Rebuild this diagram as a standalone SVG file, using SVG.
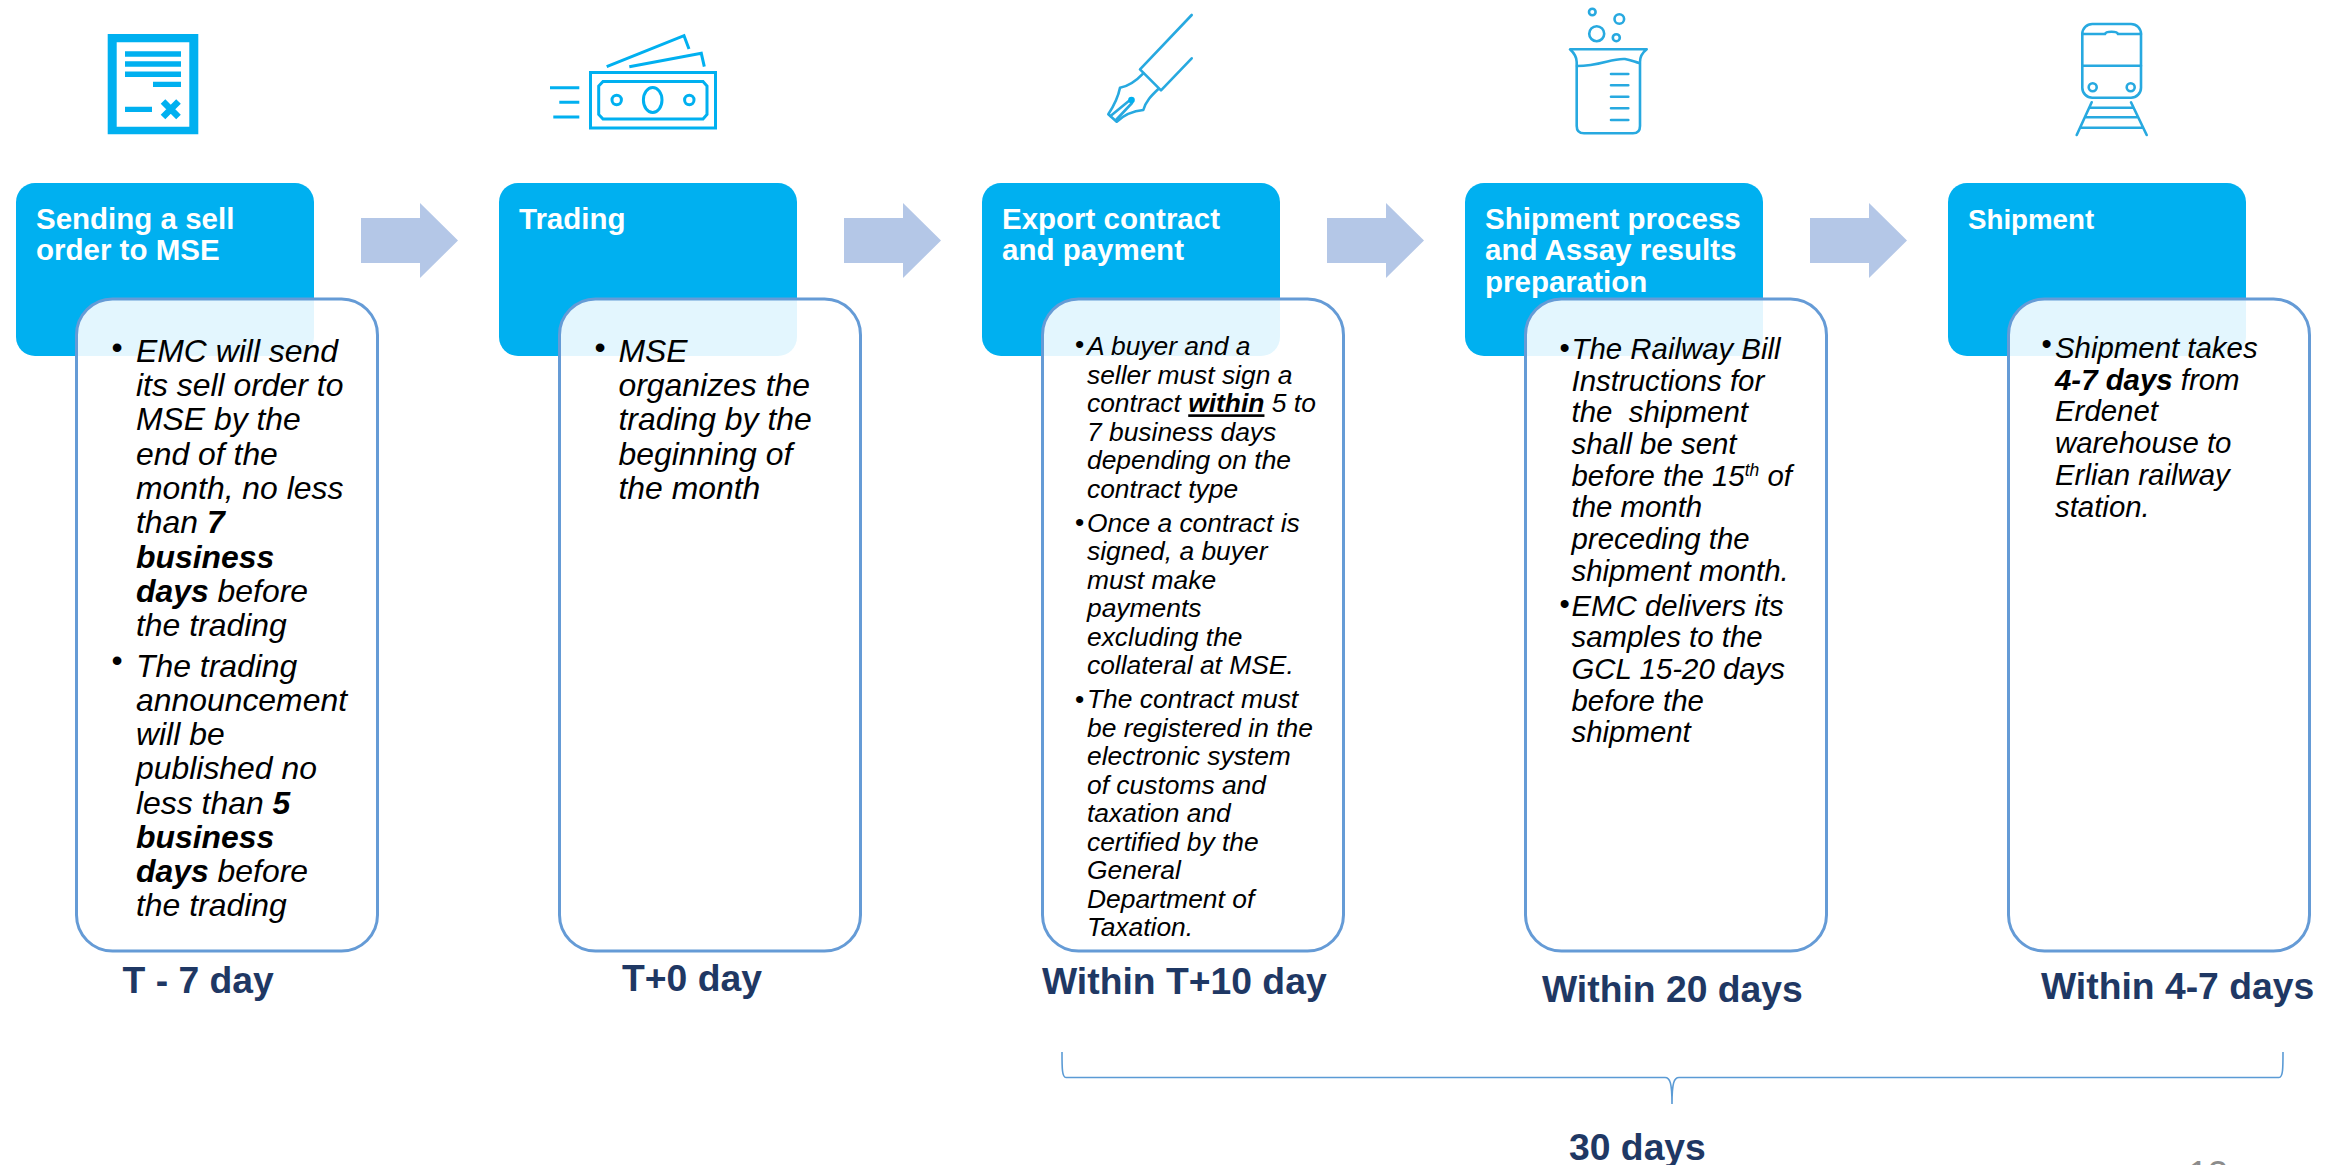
<svg xmlns="http://www.w3.org/2000/svg" width="2342" height="1165" viewBox="0 0 2342 1165">
<style>
text{font-family:"Liberation Sans",Arial,sans-serif;white-space:pre}
.card{fill:#00B0F0}
.panel{fill:#fff;fill-opacity:.89;stroke:#659BD6;stroke-width:3}
.title{font-weight:700;font-size:29.5px;fill:#fff}
.title5{font-size:27.7px}
.body{font-style:italic;fill:#000}
.b{font-weight:700}
.bullet{fill:#000}
.f1{font-size:31.9px}.f3{font-size:26.4px}.f4{font-size:29.4px}
.time{font-weight:700;font-size:37.3px;fill:#1F3864}
.arrow{fill:#B4C7E7}
.brace{fill:none;stroke:#5B9BD5;stroke-width:1.6}
.ic1{fill:#00B0F0}
.il1{fill:none;stroke:#00B0F0;stroke-width:3}
.il2{fill:none;stroke:#27A9E0;stroke-width:2.6;stroke-linejoin:round;stroke-linecap:round}
</style>
<defs>
<g id="panelshape"><rect x="76.5" y="299" width="301" height="652" rx="36" class="panel"/></g>
</defs>

<g id="connectors">
<path class="arrow" d="M361 218H420V203L458 240.500L420 278V263H361Z"/>
<path class="arrow" d="M844 218H903V203L941 240.500L903 278V263H844Z"/>
<path class="arrow" d="M1327 218H1386V203L1424 240.500L1386 278V263H1327Z"/>
<path class="arrow" d="M1810 218H1869V203L1907 240.500L1869 278V263H1810Z"/>
<path class="brace" d="M1062 1052C1062 1068 1062 1077.500 1066 1077.500H1665C1670 1077.500 1672 1083 1672 1104C1672 1083 1674 1077.500 1679 1077.500H2279C2283 1077.500 2283 1068 2283 1052"/>
</g>

<g id="icon-document">
<path class="ic1" fill-rule="evenodd" d="M107.700 34H198.300V134.300H107.700ZM116.700 42.300V126.700H189.300V42.300Z"/>
<path class="ic1" d="M125 51.300H181V56.700H125ZM125 61.300H181V66.700H125ZM125 71.600H181V76.900H125ZM153 81.700H181V86.900H153ZM125 106.700H152V111.900H125Z"/>
<path d="M163 101.500L178.500 117M178.500 101.500L163 117" fill="none" stroke="#00B0F0" stroke-width="6.500"/>
</g>
<g id="icon-money">
<rect x="590.500" y="72.500" width="125" height="55.500" class="il1"/>
<path class="il1" d="M603 81.500H703L707 86V114.500L703 119H603L598.700 114.500V86Z"/>
<circle cx="616.700" cy="100" r="4.700" class="il1"/>
<circle cx="689.300" cy="100" r="4.700" class="il1"/>
<ellipse cx="652.700" cy="100" rx="9.300" ry="12.500" class="il1"/>
<path class="il1" d="M550 87.700H579.300M559.300 102.300H579.300M553.300 117H579.300M606.700 66.700L684 35.700L689 49M629.300 66.700L701.300 53.300L704.300 66.700"/>
</g>
<g id="icon-pen">
<path class="il2" stroke-linecap="butt" d="M1191.700 15L1140 69.300L1161 90.300L1191.700 58.300"/>
<path class="il2" d="M1143.300 73.300C1136 81 1129 86 1120 87.700C1118 98 1113 107 1108.300 114.300L1116.700 121.700C1125 114 1133 111 1143.300 110C1146 101 1151 96 1158.300 89"/>
<path class="il2" stroke-width="2" d="M1110.500 116L1130 100M1116 120L1132 103"/>
<circle cx="1131.500" cy="100" r="3.300" fill="#00B0F0"/>
</g>
<g id="icon-beaker">
<circle cx="1592.300" cy="12" r="3.300" class="il2"/>
<circle cx="1619.300" cy="19" r="4.800" class="il2"/>
<circle cx="1596.700" cy="33.700" r="7.500" class="il2"/>
<circle cx="1616.300" cy="37.700" r="3.500" class="il2"/>
<path class="il2" d="M1570 49.300H1646.700C1642 53 1640 58 1640 62V126C1640 131 1637 133.300 1633 133.300H1584C1579 133.300 1576.700 131 1576.700 126V62C1576.700 58 1574 53 1570 49.300Z"/>
<path class="il2" d="M1577 66C1600 66 1612 58 1625 59C1631 60 1635 62 1639 63"/>
<path class="il2" stroke-linecap="butt" d="M1611 74H1628.300M1611 85.300H1628.300M1611 96.700H1628.300M1611 108.300H1628.300M1611 120H1628.300"/>
</g>
<g id="icon-train">
<rect x="2082.300" y="24" width="58.700" height="73.700" rx="10" class="il2"/>
<path class="il2" stroke-linecap="butt" d="M2082.300 34H2105C2106 31 2117 31 2118 34H2141M2082.300 65.700H2141"/>
<circle cx="2092.700" cy="87.300" r="4" class="il2"/>
<circle cx="2130.700" cy="87.300" r="4" class="il2"/>
<path class="il2" stroke-linecap="butt" d="M2091.700 102.300L2076.700 135M2131 102.300L2146.700 135M2090 107.700H2133M2086 117.300H2137M2081.500 127.700H2142"/>
</g>

<g id="node-sell-order">
<rect class="card" x="16" y="183" width="298" height="173" rx="19"/>
<text class="title"><tspan x="36" y="229">Sending a sell</tspan><tspan x="36" y="260">order to MSE</tspan></text>
<use href="#panelshape"/>
<text class="bullet f1" x="111.500" y="358">•</text>
<text class="bullet f1" x="111.500" y="671">•</text>
<text class="body f1"><tspan x="136" y="361.700">EMC will send</tspan><tspan x="136" y="396">its sell order to</tspan><tspan x="136" y="430.300">MSE by the</tspan><tspan x="136" y="464.600">end of the</tspan><tspan x="136" y="499">month, no less</tspan><tspan x="136" y="533.300">than <tspan class="b">7</tspan></tspan><tspan x="136" y="567.600" class="b">business</tspan><tspan x="136" y="602"><tspan class="b">days</tspan> before</tspan><tspan x="136" y="636.300">the trading</tspan><tspan x="136" y="676.500">The trading</tspan><tspan x="136" y="710.800">announcement</tspan><tspan x="136" y="745">will be</tspan><tspan x="136" y="779.400">published no</tspan><tspan x="136" y="813.500">less than <tspan class="b">5</tspan></tspan><tspan x="136" y="847.700" class="b">business</tspan><tspan x="136" y="881.900"><tspan class="b">days</tspan> before</tspan><tspan x="136" y="916.200">the trading</tspan></text>
</g>

<g id="node-trading">
<rect class="card" x="499" y="183" width="298" height="173" rx="19"/>
<text class="title" x="519" y="229">Trading</text>
<use href="#panelshape" x="483"/>
<text class="bullet f1" x="594.500" y="358">•</text>
<text class="body f1"><tspan x="618.500" y="361.700">MSE</tspan><tspan x="618.500" y="396">organizes the</tspan><tspan x="618.500" y="430.300">trading by the</tspan><tspan x="618.500" y="464.600">beginning of</tspan><tspan x="618.500" y="499">the month</tspan></text>
</g>

<g id="node-export">
<rect class="card" x="982" y="183" width="298" height="173" rx="19"/>
<text class="title"><tspan x="1002" y="229">Export contract</tspan><tspan x="1002" y="260">and payment</tspan></text>
<use href="#panelshape" x="966"/>
<text class="bullet f3" x="1075" y="353">•</text>
<text class="bullet f3" x="1075" y="531">•</text>
<text class="bullet f3" x="1075" y="707.500">•</text>
<text class="body f3"><tspan x="1087" y="355.300">A buyer and a</tspan><tspan x="1087" y="383.800">seller must sign a</tspan><tspan x="1087" y="412.300">contract <tspan class="b" text-decoration="underline">within</tspan> 5 to</tspan><tspan x="1087" y="440.800">7 business days</tspan><tspan x="1087" y="469.300">depending on the</tspan><tspan x="1087" y="497.800">contract type</tspan><tspan x="1087" y="531.500">Once a contract is</tspan><tspan x="1087" y="560">signed, a buyer</tspan><tspan x="1087" y="588.500">must make</tspan><tspan x="1087" y="617">payments</tspan><tspan x="1087" y="645.500">excluding the</tspan><tspan x="1087" y="674">collateral at MSE.</tspan><tspan x="1087" y="708">The contract must</tspan><tspan x="1087" y="736.500">be registered in the</tspan><tspan x="1087" y="765">electronic system</tspan><tspan x="1087" y="793.500">of customs and</tspan><tspan x="1087" y="822">taxation and</tspan><tspan x="1087" y="850.500">certified by the</tspan><tspan x="1087" y="879">General</tspan><tspan x="1087" y="907.500">Department of</tspan><tspan x="1087" y="936">Taxation.</tspan></text>
</g>

<g id="node-assay">
<rect class="card" x="1465" y="183" width="298" height="173" rx="19"/>
<text class="title"><tspan x="1485" y="229">Shipment process</tspan><tspan x="1485" y="260">and Assay results</tspan><tspan x="1485" y="292">preparation</tspan></text>
<use href="#panelshape" x="1449"/>
<text class="bullet f4" x="1559.500" y="358">•</text>
<text class="bullet f4" x="1559.500" y="614">•</text>
<text class="body f4"><tspan x="1571.500" y="358.800">The Railway Bill</tspan><tspan x="1571.500" y="390.500">Instructions for</tspan><tspan x="1571.500" y="422.200">the  shipment</tspan><tspan x="1571.500" y="453.900">shall be sent</tspan><tspan x="1571.500" y="485.600">before the 15<tspan font-size="17.500" dy="-10">th</tspan><tspan dy="10"> of</tspan></tspan><tspan x="1571.500" y="517.300">the month</tspan><tspan x="1571.500" y="549">preceding the</tspan><tspan x="1571.500" y="580.700">shipment month.</tspan><tspan x="1571.500" y="615.500">EMC delivers its</tspan><tspan x="1571.500" y="647.200">samples to the</tspan><tspan x="1571.500" y="678.900">GCL 15-20 days</tspan><tspan x="1571.500" y="710.600">before the</tspan><tspan x="1571.500" y="742.300">shipment</tspan></text>
</g>

<g id="node-shipment">
<rect class="card" x="1948" y="183" width="298" height="173" rx="19"/>
<text class="title title5" x="1968" y="228.500">Shipment</text>
<use href="#panelshape" x="1932"/>
<text class="bullet f4" x="2041.500" y="354">•</text>
<text class="body f4"><tspan x="2055" y="358">Shipment takes</tspan><tspan x="2055" y="389.700"><tspan class="b">4-7 days</tspan> from</tspan><tspan x="2055" y="421.400">Erdenet</tspan><tspan x="2055" y="453.100">warehouse to</tspan><tspan x="2055" y="484.800">Erlian railway</tspan><tspan x="2055" y="516.500">station.</tspan></text>
</g>

<g id="labels">
<text class="time" x="122.500" y="993">T - 7 day</text>
<text class="time" x="622" y="991">T+0 day</text>
<text class="time" x="1042" y="994">Within T+10 day</text>
<text class="time" x="1542" y="1002">Within 20 days</text>
<text class="time" x="2041" y="999">Within 4-7 days</text>
<text class="time" x="1569" y="1160">30 days</text>
<text x="2188" y="1187" font-size="36" fill="#8C8C8C">13</text>
</g>
</svg>
